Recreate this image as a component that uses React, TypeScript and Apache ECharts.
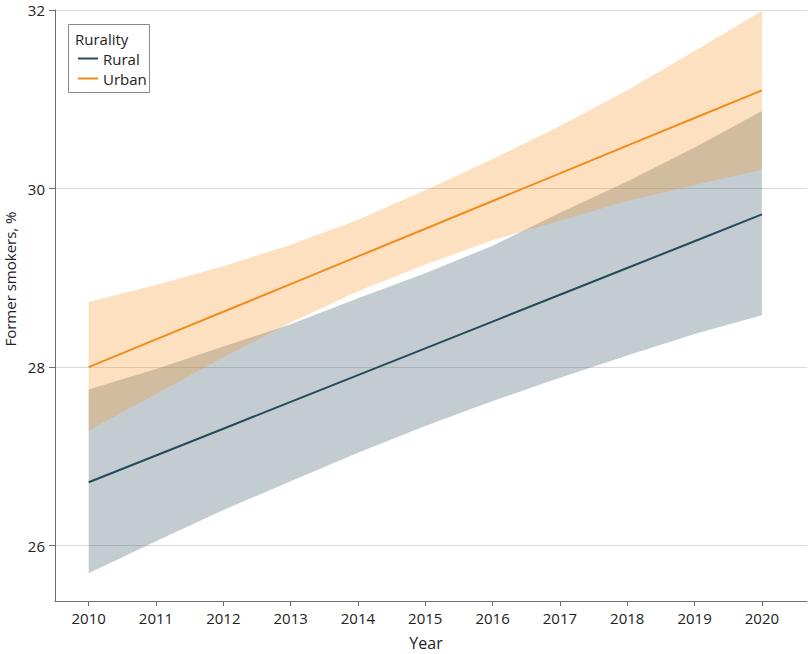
import React, { useEffect, useRef } from "react";
import * as echarts from "echarts";

const years = [2010, 2011, 2012, 2013, 2014, 2015, 2016, 2017, 2018, 2019, 2020];

const ruralEstimate = [26.71, 27.01, 27.31, 27.61, 27.91, 28.21, 28.51, 28.81, 29.11, 29.41, 29.71];
const ruralLower = [25.69, 26.05, 26.4, 26.72, 27.04, 27.34, 27.62, 27.88, 28.13, 28.37, 28.58];
const ruralUpper = [27.75, 27.98, 28.23, 28.48, 28.77, 29.05, 29.36, 29.73, 30.08, 30.46, 30.87];

const urbanEstimate = [28.0, 28.31, 28.62, 28.93, 29.24, 29.55, 29.86, 30.17, 30.48, 30.79, 31.1];
const urbanLower = [27.29, 27.7, 28.11, 28.5, 28.85, 29.15, 29.42, 29.64, 29.86, 30.04, 30.21];
const urbanUpper = [28.73, 28.92, 29.13, 29.37, 29.65, 29.98, 30.33, 30.7, 31.1, 31.54, 31.99];

const yTicks = [26, 28, 30, 32];

const FONT = "'Open Sans', Lato, 'DejaVu Sans', sans-serif";

export default function App() {
  const ref = useRef<HTMLDivElement>(null);

  useEffect(() => {
    document.body.style.margin = "0";
    const chart = echarts.init(ref.current as HTMLDivElement, null, { renderer: "svg" });

    const pairs = (vals: number[]) => years.map((y, i) => [y, vals[i]]);

    const band = (name: string, hi: number[], lo: number[], color: string, z: number) => ({
      name,
      type: "custom",
      silent: true,
      z,
      data: years.map((y, i) => [y, lo[i], hi[i]]),
      encode: { x: 0, y: [1, 2] },
      renderItem: (params: any, api: any) => {
        if (params.dataIndex !== 0) return null;
        const pts: number[][] = [];
        for (let i = 0; i < years.length; i++) pts.push(api.coord([years[i], hi[i]]));
        for (let i = years.length - 1; i >= 0; i--) pts.push(api.coord([years[i], lo[i]]));
        return {
          type: "polygon",
          shape: { points: pts },
          style: { fill: color, stroke: "none" },
        };
      },
    });

    chart.setOption({
      animation: false,
      textStyle: { fontFamily: FONT },
      grid: { left: 55, right: 3, top: 10, bottom: 53, containLabel: false },
      xAxis: {
        type: "value",
        min: 2009.5,
        max: 2020.67,
        axisLine: { show: true, onZero: false, lineStyle: { color: "#6e6e6e", width: 1 } },
        axisTick: { show: true, length: 5, customValues: years, lineStyle: { color: "#6e6e6e" } },
        axisLabel: {
          customValues: years,
          margin: 9,
          color: "#222",
          fontSize: 15,
          fontFamily: FONT,
          formatter: (v: number) => String(v),
        },
        splitLine: { show: false },
      },
      yAxis: {
        type: "value",
        min: 25.38,
        max: 32,
        axisLine: { show: true, onZero: false, lineStyle: { color: "#6e6e6e", width: 1 } },
        axisTick: { show: true, length: 6, customValues: yTicks, lineStyle: { color: "#6e6e6e" } },
        axisLabel: {
          customValues: yTicks,
          margin: 10,
          color: "#222",
          fontSize: 15,
          fontFamily: FONT,
          formatter: (v: number) => String(v),
        },
        splitLine: { show: true, lineStyle: { color: "#d9d9d9", width: 1 } },
      },
      legend: {
        data: ["Rural", "Urban"],
        orient: "vertical",
        left: 77,
        top: 51,
        itemWidth: 20,
        itemHeight: 14,
        itemGap: 5,
        padding: 0,
        itemStyle: { opacity: 0 },
        textStyle: { fontSize: 15, color: "#222", fontFamily: FONT },
      },
      graphic: [
        {
          type: "rect",
          shape: { x: 68.5, y: 24.5, width: 81, height: 68 },
          style: { fill: "#fff", stroke: "#8a8a8a", lineWidth: 1 },
          z: 0,
        },
        {
          type: "text",
          x: 75,
          y: 39,
          style: {
            text: "Rurality",
            fontSize: 15,
            fontFamily: FONT,
            fill: "#222",
            align: "left",
            verticalAlign: "middle",
          },
          z: 5,
        },
        {
          type: "text",
          x: 10,
          y: 279,
          rotation: Math.PI / 2,
          style: {
            text: "Former smokers, %",
            fontSize: 15,
            fontFamily: FONT,
            fill: "#222",
            align: "center",
            verticalAlign: "middle",
          },
        },
        {
          type: "text",
          x: 426,
          y: 643,
          style: {
            text: "Year",
            fontSize: 16,
            fontFamily: FONT,
            fill: "#222",
            align: "center",
            verticalAlign: "middle",
          },
        },
      ],
      series: [
        band("Rural 95% CI", ruralUpper, ruralLower, "rgba(81,109,123,0.35)", 1),
        band("Urban 95% CI", urbanUpper, urbanLower, "rgba(248,152,45,0.3)", 1),
        {
          name: "Rural",
          type: "line",
          data: pairs(ruralEstimate),
          symbol: "none",
          lineStyle: { color: "#244b58", width: 2 },
          itemStyle: { color: "#244b58" },
          z: 3,
        },
        {
          name: "Urban",
          type: "line",
          data: pairs(urbanEstimate),
          symbol: "none",
          lineStyle: { color: "#ee8d1b", width: 2 },
          itemStyle: { color: "#ee8d1b" },
          z: 3,
        },
      ],
    });

    return () => chart.dispose();
  }, []);

  return <div ref={ref} style={{ width: 810, height: 654 }} />;
}
